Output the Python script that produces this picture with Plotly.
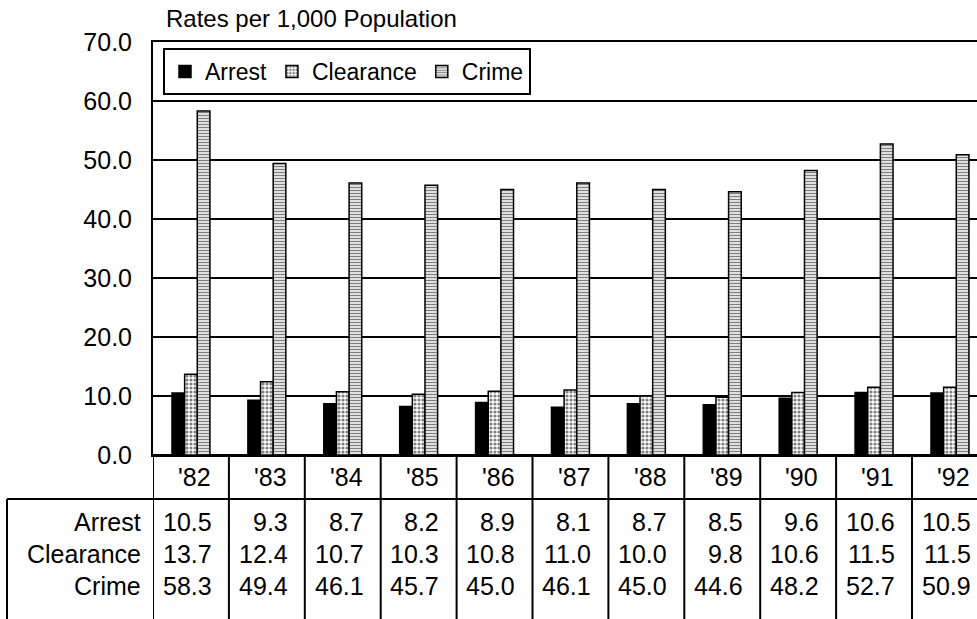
import plotly.graph_objects as go

# Rates per 1,000 population, 1982-1992
years = ["'82", "'83", "'84", "'85", "'86", "'87", "'88", "'89", "'90", "'91", "'92"]
arrest = [10.5, 9.3, 8.7, 8.2, 8.9, 8.1, 8.7, 8.5, 9.6, 10.6, 10.5]
clearance = [13.7, 12.4, 10.7, 10.3, 10.8, 11.0, 10.0, 9.8, 10.6, 11.5, 11.5]
crime = [58.3, 49.4, 46.1, 45.7, 45.0, 46.1, 45.0, 44.6, 48.2, 52.7, 50.9]

series = [
    ("Arrest", arrest, dict(color="black", line=dict(color="black", width=1.5))),
    ("Clearance", clearance, dict(color="white", line=dict(color="black", width=1.5),
                                  pattern=dict(shape=".", fgcolor="black", bgcolor="white",
                                               size=4, solidity=0.5))),
    ("Crime", crime, dict(color="white", line=dict(color="black", width=1.5),
                          pattern=dict(shape="-", fgcolor="black", bgcolor="white",
                                       size=3, solidity=0.5))),
]

FONT = "Arial, 'Liberation Sans', sans-serif"
TXT = 25
W, H = 977, 619
L, T, B = 153, 42, 164
plot_w = W - L
plot_h = H - T - B
col_px = 75.9  # width of one year column in pixels


def py(pix):
    """Pixel row -> paper y."""
    return (H - B - pix) / plot_h


def px(pix):
    """Pixel column -> paper x."""
    return (pix - L) / plot_w


fig = go.Figure()
for name, vals, marker in series:
    fig.add_trace(go.Bar(name=name, x=list(range(len(years))), y=vals, marker=marker))

n = len(years)
x_end = -0.5 + plot_w / col_px

annotations = []
shapes = []

# year header row and data rows of the table beneath the chart
row_y = {"year": py(477), "Arrest": py(522), "Clearance": py(554), "Crime": py(586)}
for i, yr in enumerate(years):
    annotations.append(dict(x=i + 0.05, y=row_y["year"], xref="x", yref="paper", text=yr,
                            showarrow=False, xanchor="center", yanchor="middle",
                            font=dict(size=TXT, color="black", family=FONT)))
for name, vals, _ in series:
    annotations.append(dict(x=px(143), y=row_y[name], xref="paper", yref="paper", text=name,
                            showarrow=False, xanchor="right", yanchor="middle",
                            font=dict(size=TXT, color="black", family=FONT)))
    for i, v in enumerate(vals):
        annotations.append(dict(x=i + 0.3, y=row_y[name], xref="x", yref="paper",
                                text=f"{v:.1f}", showarrow=False, xanchor="right",
                                yanchor="middle",
                                font=dict(size=TXT, color="black", family=FONT)))

# column separators
for i in range(n + 1):
    shapes.append(dict(type="line", xref="x", yref="paper", x0=i - 0.5, x1=i - 0.5,
                       y0=0, y1=py(H + 5), line=dict(color="black", width=2)))
# horizontal rule under the year row and left edge of the label box
shapes.append(dict(type="line", xref="paper", yref="paper", x0=px(7), x1=px(W + 5),
                   y0=py(499), y1=py(499), line=dict(color="black", width=2)))
shapes.append(dict(type="line", xref="paper", yref="paper", x0=px(7), x1=px(7),
                   y0=py(499), y1=py(H + 5), line=dict(color="black", width=2)))

annotations.append(dict(x=px(164), y=py(18), xref="paper", yref="paper",
                        text="Rates per 1,000 Population", showarrow=False,
                        xanchor="left", yanchor="middle",
                        font=dict(size=24, color="black", family=FONT)))

fig.update_layout(
    width=W, height=H,
    margin=dict(l=L, r=0, t=T, b=B, pad=0),
    paper_bgcolor="white", plot_bgcolor="white",
    barmode="group", bargap=0.5, bargroupgap=0,
    font=dict(family=FONT, color="black"),
    showlegend=True,
    legend=dict(orientation="h", x=px(163), y=py(48), xanchor="left", yanchor="top",
                bgcolor="white", bordercolor="black", borderwidth=2,
                font=dict(size=23, color="black", family=FONT),
                itemwidth=30, tracegroupgap=0, entrywidth=0),
    annotations=annotations,
    shapes=shapes,
)
fig.update_xaxes(range=[-0.5, x_end], showticklabels=False, showgrid=False,
                 showline=True, mirror=True, linecolor="black", linewidth=2,
                 zeroline=False, ticks="", fixedrange=True)
fig.update_yaxes(range=[0, 70], dtick=10, tickformat=".1f", showgrid=True,
                 gridcolor="black", gridwidth=2, showline=True, linecolor="black",
                 linewidth=2, zeroline=True, zerolinecolor="black", zerolinewidth=2,
                 ticks="", ticklabelstandoff=14,
                 tickfont=dict(size=TXT, color="black", family=FONT))

fig.write_html("out.html")
